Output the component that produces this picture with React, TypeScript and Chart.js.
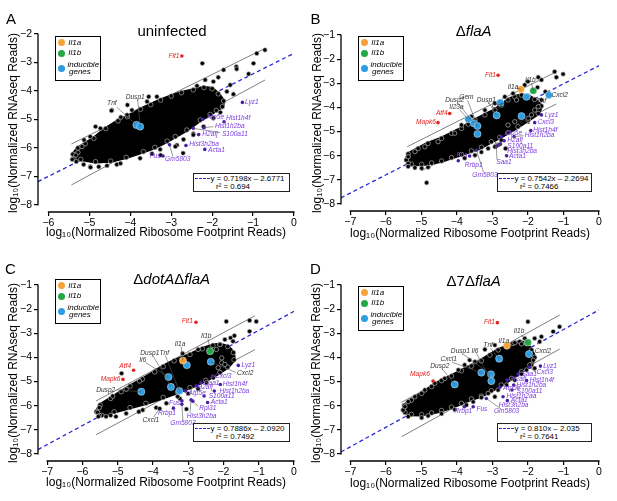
import React, { useEffect, useRef } from "react";
import { Chart, registerables } from "chart.js";

Chart.register(...registerables);

type Pt = [number, number];
type Lbl = { t: string; x: number; y: number; c: "r" | "p" | "g"; a: CanvasTextAlign; from?: Pt; to?: Pt };

const FONT = '"Liberation Sans", Arial, Helvetica, sans-serif';
Chart.defaults.font.family = FONT;

// ---------- tick labels ----------
const xTicksA = [-6, -5, -4, -3, -2, -1, 0];
const yTicksA = [-8, -7, -6, -5, -4, -3, -2];
const xTicksBCD = [-7, -6, -5, -4, -3, -2, -1, 0];
const yTicksBCD = [-8, -7, -6, -5, -4, -3, -2, -1];

const xTitle = "log\u2081\u2080(Normalized Ribosome Footprint Reads)";
const yTitle = "log\u2081\u2080(Normalized RNAseq Reads)";

// ---------- panel A: uninfected ----------
const cloudA: Pt[] = [
  [-5.4, -6.22], [-5.28, -6.0], [-5.1, -5.85], [-4.89, -5.66], [-4.6, -5.32], [-4.3, -5.05],
  [-4.07, -4.9], [-3.75, -4.64], [-3.5, -4.48], [-3.26, -4.32], [-3.0, -4.18], [-2.75, -4.06],
  [-2.46, -3.96], [-2.2, -3.88], [-2.0, -3.92], [-1.85, -4.1], [-1.72, -4.35], [-1.75, -4.55],
  [-1.9, -4.68], [-2.05, -4.82], [-2.29, -5.02], [-2.62, -5.37], [-2.9, -5.6], [-3.1, -5.76],
  [-3.4, -5.98], [-3.68, -6.13], [-4.1, -6.33], [-4.48, -6.46], [-4.85, -6.48], [-5.21, -6.4],
  [-5.38, -6.38],
];
const outliersA: Pt[] = [
  [-0.71, -2.56], [-0.91, -2.68], [-0.99, -3.03], [-1.11, -3.4], [-1.41, -3.15], [-1.4, -3.23],
  [-2.24, -3.03], [-1.72, -3.26], [-1.56, -3.79], [-1.48, -4.11], [-1.85, -3.52], [-1.97, -3.67],
  [-1.64, -4.02], [-2.17, -3.61], [-2.37, -3.82], [-4.45, -4.67], [-4.23, -4.92], [-4.08, -4.84],
  [-3.96, -4.67], [-3.59, -4.37], [-3.35, -4.2], [-4.73, -5.31], [-4.98, -5.6], [-5.18, -5.95],
  [-5.28, -6.16], [-5.42, -6.4], [-5.32, -6.48], [-5.14, -6.58], [-4.98, -6.66], [-4.77, -6.66],
  [-4.57, -6.62], [-4.33, -6.58], [-3.76, -6.36], [-3.47, -6.2], [-3.27, -6.05], [-2.86, -5.9],
  [-2.7, -5.7], [-2.46, -5.5], [-2.21, -5.25], [-1.97, -4.95], [-1.8, -4.75], [-2.71, -6.18],
  [-4.46, -4.69], [-4.07, -4.49], [-3.55, -4.2], [-4.85, -5.25], [-5.13, -5.72], [-5.33, -6.25],
  [-4.97, -6.68], [-4.24, -6.54], [-3.26, -6.25], [-2.9, -5.95], [-2.46, -5.54],
];
const inducibleA: Pt[] = [[-3.85, -5.19], [-3.76, -5.25]];
const il1aA: Pt[] = [];
const il1bA: Pt[] = [];
const redA: Pt[] = [[-2.74, -2.77]];
const purpleA: Pt[] = [
  [-1.26, -4.4], [-2.23, -4.99], [-1.71, -5.08], [-2.2, -5.29], [-2.46, -5.31], [-2.33, -5.53],
  [-2.64, -5.91], [-2.18, -6.05], [-3.2, -6.28], [-3.04, -5.89],
];
const fitA: Pt[] = [[-6.255, -7.179], [0, -2.6771]];
const upperA: Pt[] = [[-5.439, -5.86], [-0.707, -2.502]];
const lowerA: Pt[] = [[-5.439, -7.298], [-0.707, -3.614]];
const eqA = "y = 0.7198x \u2013 2.6771";
const r2A = "r\u00B2 = 0.694";
const labelsA: Lbl[] = [
  { t: "Fit1", x: -2.8, y: -2.77, c: "r", a: "right" },
  { t: "Tnf", x: -4.45, y: -4.43, c: "g", a: "center", from: [-4.33, -4.57], to: [-3.85, -5.19] },
  { t: "Dusp1", x: -3.88, y: -4.2, c: "g", a: "center", from: [-3.82, -4.3], to: [-3.76, -5.25] },
  { t: "Lyz1", x: -1.2, y: -4.4, c: "p", a: "left" },
  { t: "Atp5e", x: -2.13, y: -4.92, c: "p", a: "left" },
  { t: "Hist1h4f", x: -1.66, y: -4.96, c: "p", a: "left" },
  { t: "Hist1h2ba", x: -1.93, y: -5.25, c: "p", a: "left", from: [-1.97, -5.25], to: [-2.2, -5.29] },
  { t: "S100a11", x: -1.76, y: -5.51, c: "p", a: "left", from: [-1.8, -5.46], to: [-2.46, -5.31] },
  { t: "H2afj", x: -2.24, y: -5.53, c: "p", a: "left" },
  { t: "Hist3h2ba", x: -2.56, y: -5.88, c: "p", a: "left" },
  { t: "Acta1", x: -2.1, y: -6.07, c: "p", a: "left" },
  { t: "Fus", x: -3.26, y: -6.27, c: "p", a: "right" },
  { t: "Gm5803", x: -2.84, y: -6.4, c: "p", a: "center", from: [-2.96, -6.3], to: [-3.04, -5.89] },
];

// ---------- panel B: ΔflaA ----------
const cloudB: Pt[] = [
  [-5.42, -6.18], [-5.37, -5.93], [-5.09, -5.7], [-4.81, -5.49], [-4.43, -5.28], [-4.15, -5.07],
  [-3.87, -4.87], [-3.68, -4.69], [-3.49, -4.52], [-3.21, -4.31], [-2.93, -4.11], [-2.75, -3.9],
  [-2.56, -3.69], [-2.37, -3.56], [-2.18, -3.49], [-1.99, -3.53], [-1.81, -3.67], [-1.62, -3.94],
  [-1.71, -4.25], [-1.99, -4.52], [-2.28, -4.8], [-2.56, -5.05], [-2.79, -5.24], [-3.03, -5.42],
  [-3.31, -5.65], [-3.59, -5.8], [-3.87, -5.95], [-4.15, -6.08], [-4.43, -6.22], [-4.71, -6.3],
  [-4.99, -6.36], [-5.28, -6.35],
];
const outliersB: Pt[] = [
  [-1.25, -2.52], [-1.01, -2.62], [-1.2, -2.75], [-1.71, -2.75], [-1.62, -2.86], [-2.0, -2.93],
  [-2.09, -3.07], [-1.73, -3.17], [-1.51, -3.35], [-1.62, -3.69], [-1.71, -3.97], [-1.81, -4.11],
  [-1.9, -4.31], [-1.99, -4.45], [-2.37, -4.59], [-2.56, -4.73], [-2.63, -5.7], [-2.75, -5.35],
  [-2.93, -5.63], [-3.12, -5.7], [-3.31, -5.85], [-3.49, -5.98], [-3.78, -6.1], [-4.85, -7.12],
  [-5.37, -6.32], [-5.37, -6.45], [-5.18, -6.5], [-4.99, -6.52], [-4.81, -6.48], [-5.37, -6.04],
  [-5.18, -5.83], [-4.9, -5.63], [-4.53, -5.42], [-4.06, -5.07], [-3.87, -4.73], [-3.59, -4.38],
  [-3.21, -4.11], [-2.93, -3.83], [-2.65, -3.56], [-2.42, -3.42], [-2.32, -3.69], [-2.18, -3.28],
];
const inducibleB: Pt[] = [
  [-2.78, -3.8], [-2.04, -3.56], [-1.41, -3.49], [-2.88, -4.33], [-2.18, -4.36], [-3.68, -4.49],
  [-3.52, -4.66], [-3.42, -4.77], [-3.42, -5.1],
];
const il1aB: Pt[] = [[-2.2, -3.25]];
const il1bB: Pt[] = [[-1.85, -3.31]];
const redB: Pt[] = [[-2.84, -2.67], [-4.2, -4.25], [-4.53, -4.63]];
const purpleB: Pt[] = [
  [-1.62, -4.31], [-1.81, -4.63], [-1.92, -4.96], [-2.39, -5.21], [-2.75, -5.21], [-2.67, -5.38],
  [-2.77, -5.52], [-2.84, -5.56], [-2.6, -6.0], [-3.64, -6.01], [-3.96, -6.21], [-3.45, -5.77],
  [-2.89, -5.63],
];
const fitB: Pt[] = [[-7.26, -7.745], [0, -2.2694]];
const upperB: Pt[] = [[-5.397, -5.627], [-1.2, -2.52]];
const lowerB: Pt[] = [[-4.995, -6.621], [-1.2, -3.858]];
const eqB = "y = 0.7542x \u2013 2.2694";
const r2B = "r\u00B2 = 0.7466";
const labelsB: Lbl[] = [
  { t: "Fit1", x: -2.9, y: -2.67, c: "r", a: "right" },
  { t: "Atf4", x: -4.26, y: -4.25, c: "r", a: "right" },
  { t: "Mapk6", x: -4.59, y: -4.63, c: "r", a: "right" },
  { t: "Il1b", x: -1.93, y: -2.86, c: "g", a: "center", from: [-1.9, -2.98], to: [-1.85, -3.31] },
  { t: "Il1a", x: -2.42, y: -3.17, c: "g", a: "center", from: [-2.32, -3.2], to: [-2.2, -3.25] },
  { t: "Dusp1", x: -3.17, y: -3.69, c: "g", a: "center", from: [-3.1, -3.8], to: [-2.88, -4.33] },
  { t: "Csf2", x: -2.82, y: -3.94, c: "g", a: "center" },
  { t: "Gem", x: -3.73, y: -3.58, c: "g", a: "center", from: [-3.7, -3.7], to: [-3.42, -4.77] },
  { t: "Dusp2", x: -4.06, y: -3.69, c: "g", a: "center", from: [-3.98, -3.8], to: [-3.52, -4.66] },
  { t: "Il23a", x: -4.01, y: -4.0, c: "g", a: "center", from: [-3.92, -4.1], to: [-3.68, -4.49] },
  { t: "Tnf", x: -1.76, y: -3.72, c: "g", a: "left" },
  { t: "Cxcl2", x: -1.34, y: -3.51, c: "g", a: "left" },
  { t: "Cxcl1", x: -2.39, y: -4.62, c: "g", a: "left" },
  { t: "Il6", x: -2.86, y: -5.56, c: "g", a: "center" },
  { t: "Lyz1", x: -1.53, y: -4.31, c: "p", a: "left" },
  { t: "Cxcl3", x: -1.73, y: -4.63, c: "p", a: "left" },
  { t: "Hist1h4f", x: -1.85, y: -4.94, c: "p", a: "left" },
  { t: "Hist1h2ba", x: -2.09, y: -5.16, c: "p", a: "left", from: [-2.12, -5.17], to: [-2.39, -5.21] },
  { t: "Atp5e", x: -2.65, y: -5.07, c: "p", a: "left" },
  { t: "H2afj", x: -2.58, y: -5.35, c: "p", a: "left" },
  { t: "S100a11", x: -2.58, y: -5.59, c: "p", a: "left" },
  { t: "Hist3h2ba", x: -2.58, y: -5.81, c: "p", a: "left" },
  { t: "Acta1", x: -2.53, y: -6.0, c: "p", a: "left" },
  { t: "Saa1", x: -2.89, y: -6.25, c: "p", a: "left", from: [-2.87, -6.17], to: [-2.89, -5.63] },
  { t: "Fus", x: -3.7, y: -5.97, c: "p", a: "right" },
  { t: "Rrbp1", x: -3.78, y: -6.41, c: "p", a: "left" },
  { t: "Gm5803", x: -3.21, y: -6.8, c: "p", a: "center", from: [-3.25, -6.68], to: [-3.45, -5.77] },
];

// ---------- panel C: ΔdotAΔflaA ----------
const cloudC: Pt[] = [
  [-5.6, -6.25], [-5.5, -5.97], [-5.2, -5.7], [-4.9, -5.42], [-4.65, -5.19], [-4.3, -4.9],
  [-3.95, -4.6], [-3.71, -4.38], [-3.4, -4.14], [-2.95, -3.88], [-2.6, -3.64], [-2.3, -3.5],
  [-2.1, -3.46], [-1.88, -3.55], [-1.72, -3.8], [-1.7, -4.1], [-1.88, -4.4], [-2.1, -4.62],
  [-2.5, -4.95], [-2.95, -5.25], [-3.3, -5.45], [-3.71, -5.66], [-4.2, -5.9], [-4.65, -6.08],
  [-5.1, -6.25], [-5.45, -6.4],
];
const outliersC: Pt[] = [
  [-1.92, -2.51], [-1.26, -2.47], [-1.07, -2.51], [-1.26, -2.92], [-1.69, -3.1], [-1.8, -3.19],
  [-1.73, -3.33], [-1.96, -3.26], [-2.1, -3.47], [-2.2, -3.67], [-2.05, -4.02], [-2.05, -4.22],
  [-2.15, -4.43], [-1.96, -4.29], [-2.72, -3.67], [-3.16, -3.84], [-4.38, -4.98], [-4.76, -5.32],
  [-5.14, -5.6], [-5.52, -6.08], [-5.57, -6.28], [-5.52, -6.4], [-5.33, -6.45], [-5.05, -6.45],
  [-4.76, -6.32], [-4.29, -6.18], [-3.91, -6.08], [-3.62, -5.9], [-3.24, -5.7], [-3.0, -5.5],
  [-2.72, -5.3], [-2.48, -5.05], [-2.29, -4.84], [-3.05, -6.14], [-3.81, -6.12], [-4.89, -4.66],
  [-5.55, -6.45], [-5.2, -6.4], [-4.4, -6.25], [-3.3, -5.62],
];
const inducibleC: Pt[] = [
  [-3.04, -4.32], [-2.36, -4.18], [-3.56, -4.81], [-3.49, -5.22], [-3.25, -5.39], [-4.33, -5.42],
];
const il1aC: Pt[] = [[-3.15, -4.13]];
const il1bC: Pt[] = [[-2.38, -3.74]];
const redC: Pt[] = [[-2.78, -2.54], [-4.55, -4.53], [-4.85, -4.91]];
const purpleC: Pt[] = [
  [-1.58, -4.33], [-2.31, -4.77], [-2.64, -5.05], [-2.09, -5.12], [-2.77, -5.18], [-2.26, -5.39],
  [-3.08, -5.39], [-2.55, -5.6], [-2.45, -5.87], [-2.87, -5.81], [-2.92, -5.76], [-3.18, -5.8],
  [-3.42, -6.1], [-3.18, -5.94],
];
const fitC: Pt[] = [[-7.26, -7.817], [0, -2.092]];
const upperC: Pt[] = [[-5.614, -5.804], [-1.109, -2.276]];
const lowerC: Pt[] = [[-5.614, -7.204], [-1.109, -3.676]];
const eqC = "y = 0.7886x \u2013 2.0920";
const r2C = "r\u00B2 = 0.7492";
const labelsC: Lbl[] = [
  { t: "Fit1", x: -2.87, y: -2.51, c: "r", a: "right" },
  { t: "Atf4", x: -4.62, y: -4.36, c: "r", a: "right" },
  { t: "Mapk6", x: -4.92, y: -4.91, c: "r", a: "right" },
  { t: "Il1b", x: -2.49, y: -3.1, c: "g", a: "center", from: [-2.44, -3.22], to: [-2.38, -3.74] },
  { t: "Il1a", x: -3.23, y: -3.43, c: "g", a: "center", from: [-3.2, -3.55], to: [-3.15, -4.13] },
  { t: "Dusp1", x: -4.09, y: -3.81, c: "g", a: "center", from: [-4.0, -3.92], to: [-3.49, -5.22] },
  { t: "Tnf", x: -3.68, y: -3.81, c: "g", a: "center", from: [-3.65, -3.92], to: [-3.25, -5.39] },
  { t: "Il6", x: -4.29, y: -4.11, c: "g", a: "center", from: [-4.2, -4.22], to: [-3.56, -4.81] },
  { t: "Dusp2", x: -5.07, y: -5.35, c: "g", a: "right", from: [-5.02, -5.35], to: [-4.33, -5.42] },
  { t: "Cxcl1", x: -4.06, y: -6.58, c: "g", a: "center", from: [-3.98, -6.47], to: [-3.81, -6.12] },
  { t: "Cxcl2", x: -1.62, y: -4.66, c: "g", a: "left", from: [-1.65, -4.62], to: [-2.36, -4.18] },
  { t: "Lyz1", x: -1.49, y: -4.33, c: "p", a: "left" },
  { t: "Cxcl3", x: -2.24, y: -4.77, c: "p", a: "left" },
  { t: "Saa1", x: -2.55, y: -5.05, c: "p", a: "left" },
  { t: "Hist1h4f", x: -2.02, y: -5.12, c: "p", a: "left" },
  { t: "H2afj", x: -2.74, y: -5.22, c: "p", a: "left" },
  { t: "Hist1h2ba", x: -2.11, y: -5.39, c: "p", a: "left" },
  { t: "Atp5e", x: -2.99, y: -5.49, c: "p", a: "left" },
  { t: "S100a11", x: -2.42, y: -5.6, c: "p", a: "left" },
  { t: "Acta1", x: -2.36, y: -5.87, c: "p", a: "left" },
  { t: "Rpl31", x: -2.69, y: -6.09, c: "p", a: "left", from: [-2.72, -6.02], to: [-2.87, -5.81] },
  { t: "Hist3h2ba", x: -3.04, y: -6.42, c: "p", a: "left", from: [-2.95, -6.3], to: [-2.92, -5.76] },
  { t: "Fus", x: -3.23, y: -5.9, c: "p", a: "right" },
  { t: "Rrbp1", x: -3.6, y: -6.32, c: "p", a: "center" },
  { t: "Gm5803", x: -3.15, y: -6.72, c: "p", a: "center", from: [-3.15, -6.6], to: [-3.18, -5.94] },
];

// ---------- panel D: Δ7ΔflaA ----------
const cloudD: Pt[] = [
  [-5.51, -6.18], [-5.48, -5.99], [-5.28, -5.77], [-4.99, -5.49], [-4.71, -5.21], [-4.43, -4.96],
  [-4.15, -4.77], [-3.87, -4.55], [-3.59, -4.36], [-3.31, -4.14], [-3.07, -3.9], [-2.84, -3.69],
  [-2.6, -3.56], [-2.42, -3.42], [-2.23, -3.35], [-2.04, -3.42], [-1.9, -3.69], [-1.81, -4.0],
  [-1.9, -4.31], [-2.18, -4.59], [-2.46, -4.87], [-2.75, -5.14], [-3.03, -5.38], [-3.31, -5.6],
  [-3.59, -5.72], [-3.87, -5.9], [-4.15, -6.06], [-4.43, -6.2], [-4.71, -6.3], [-4.99, -6.37],
  [-5.28, -6.36], [-5.46, -6.28],
];
const outliersD: Pt[] = [
  [-2.0, -2.52], [-1.11, -2.73], [-1.29, -2.93], [-1.62, -3.14], [-1.81, -3.21], [-1.67, -3.35],
  [-2.09, -3.21], [-2.18, -3.44], [-2.37, -3.39], [-2.93, -3.49], [-3.21, -3.67], [-1.85, -4.11],
  [-1.95, -4.31], [-1.81, -4.45], [-2.04, -4.52], [-2.18, -4.69], [-2.37, -4.94], [-2.6, -5.14],
  [-2.84, -5.35], [-2.93, -5.63], [-3.12, -5.49], [-3.31, -5.66], [-3.54, -5.84], [-3.73, -5.97],
  [-4.06, -6.16], [-4.43, -6.33], [-4.81, -6.42], [-4.99, -6.5], [-5.37, -6.45], [-5.46, -6.04],
  [-5.37, -5.83], [-5.18, -5.63], [-4.9, -5.35], [-4.62, -5.07], [-4.34, -4.87], [-3.96, -4.52],
  [-3.78, -4.31], [-3.49, -4.18], [-3.64, -4.11],
];
const inducibleD: Pt[] = [
  [-1.97, -3.86], [-2.81, -4.05], [-3.31, -4.63], [-3.04, -4.7], [-3.03, -4.98], [-4.06, -5.12],
];
const il1aD: Pt[] = [[-2.59, -3.51]];
const il1bD: Pt[] = [[-2.0, -3.38]];
const redD: Pt[] = [[-2.86, -2.56], [-4.67, -4.98]];
const purpleD: Pt[] = [
  [-1.65, -4.36], [-1.95, -4.41], [-2.28, -4.69], [-2.58, -4.94], [-2.04, -4.96], [-2.4, -5.14],
  [-2.79, -5.24], [-2.45, -5.35], [-2.7, -5.63], [-2.58, -5.79], [-3.17, -5.7], [-3.54, -6.04],
  [-3.79, -6.04],
];
const fitD: Pt[] = [[-7.26, -7.916], [0, -2.035]];
const upperD: Pt[] = [[-5.557, -5.86], [-1.105, -2.243]];
const lowerD: Pt[] = [[-5.557, -7.284], [-1.105, -3.651]];
const eqD = "y = 0.810x \u2013 2.035";
const r2D = "r\u00B2 = 0.7641";
const labelsD: Lbl[] = [
  { t: "Fit1", x: -2.93, y: -2.52, c: "r", a: "right" },
  { t: "Mapk6", x: -4.76, y: -4.69, c: "r", a: "right" },
  { t: "Il1b", x: -2.25, y: -2.93, c: "g", a: "center", from: [-2.2, -3.05], to: [-2.0, -3.38] },
  { t: "Il1a", x: -2.68, y: -3.31, c: "g", a: "center" },
  { t: "Tnf", x: -3.12, y: -3.51, c: "g", a: "center", from: [-3.05, -3.62], to: [-2.81, -4.05] },
  { t: "Dusp1", x: -3.9, y: -3.76, c: "g", a: "center", from: [-3.82, -3.87], to: [-3.04, -4.7] },
  { t: "Il6", x: -3.49, y: -3.72, c: "g", a: "center", from: [-3.45, -3.83], to: [-3.03, -4.98] },
  { t: "Cxcl1", x: -4.23, y: -4.08, c: "g", a: "center", from: [-4.15, -4.19], to: [-3.31, -4.63] },
  { t: "Dusp2", x: -4.48, y: -4.38, c: "g", a: "center", from: [-4.4, -4.49], to: [-4.06, -5.12] },
  { t: "Cxcl2", x: -1.81, y: -3.72, c: "g", a: "left" },
  { t: "Lyz1", x: -1.57, y: -4.36, c: "p", a: "left" },
  { t: "Cxcl3", x: -1.76, y: -4.62, c: "p", a: "left", from: [-1.8, -4.58], to: [-1.95, -4.41] },
  { t: "Saa1", x: -2.18, y: -4.69, c: "p", a: "left" },
  { t: "H2afj", x: -2.48, y: -4.91, c: "p", a: "left" },
  { t: "Hist1h4f", x: -1.95, y: -4.96, c: "p", a: "left" },
  { t: "Hist1h2ba", x: -2.32, y: -5.14, c: "p", a: "left" },
  { t: "Atp5e", x: -2.7, y: -5.28, c: "p", a: "left" },
  { t: "S100a11", x: -2.32, y: -5.38, c: "p", a: "left" },
  { t: "Hist1h2aa", x: -2.6, y: -5.59, c: "p", a: "left" },
  { t: "Acta1", x: -2.48, y: -5.79, c: "p", a: "left" },
  { t: "Hist3h2ba", x: -2.82, y: -5.99, c: "p", a: "left" },
  { t: "Gm5803", x: -2.6, y: -6.22, c: "p", a: "center", from: [-2.75, -6.14], to: [-3.17, -5.7] },
  { t: "Fus", x: -3.45, y: -6.14, c: "p", a: "left" },
  { t: "Rrbp1", x: -3.82, y: -6.23, c: "p", a: "center" },
];

// ---------- styling ----------
const C = {
  red: "#e3231f",
  purpleDot: "#4a1fa6",
  purpleText: "#7a3ce0",
  blue: "#2d9ce0",
  orange: "#f6a23a",
  green: "#23a846",
  fit: "#2a2ad2",
  bound: "#7f7f7f",
  grayText: "#333333",
};

interface PanelSpec {
  letter: string;
  title: React.ReactNode;
  cell: { left: number; top: number; w: number; h: number };
  area: { l: number; r: number; t: number; b: number };
  xr: [number, number];
  yr: [number, number];
  xt: number[];
  yt: number[];
  yTitlePad: number;
  xTitlePad: number;
  cloud: Pt[];
  outliers: Pt[];
  inducible: Pt[];
  il1a: Pt[];
  il1b: Pt[];
  red: Pt[];
  purple: Pt[];
  fit: Pt[];
  upper: Pt[];
  lower: Pt[];
  eq: string;
  r2: string;
  labels: Lbl[];
  letterPos: [number, number];
  titlePos: [number, number];
  legendPos: [number, number];
  eqPos: [number, number];
  eqW: number;
}

const panels: PanelSpec[] = [
  {
    letter: "A", title: <span>uninfected</span>,
    cell: { left: 0, top: 0, w: 308, h: 250 }, area: { l: 38, r: 294, t: 34, b: 212 },
    xr: [-6.255, 0], yr: [-8.246, -2], xt: xTicksA, yt: yTicksA, yTitlePad: 6, xTitlePad: 10,
    cloud: cloudA, outliers: outliersA, inducible: inducibleA, il1a: il1aA, il1b: il1bA, red: redA, purple: purpleA,
    fit: fitA, upper: upperA, lower: lowerA, eq: eqA, r2: r2A, labels: labelsA,
    letterPos: [6, 11], titlePos: [172, 29.5], legendPos: [55, 36], eqPos: [193, 173], eqW: 97,
  },
  {
    letter: "B", title: <span>{"\u0394"}<i>flaA</i></span>,
    cell: { left: 308, top: 0, w: 309, h: 250 }, area: { l: 33, r: 291, t: 35, b: 211 },
    xr: [-7.26, 0], yr: [-8.29, -1], xt: xTicksBCD, yt: yTicksBCD, yTitlePad: 2, xTitlePad: 9.5,
    cloud: cloudB, outliers: outliersB, inducible: inducibleB, il1a: il1aB, il1b: il1bB, red: redB, purple: purpleB,
    fit: fitB, upper: upperB, lower: lowerB, eq: eqB, r2: r2B, labels: labelsB,
    letterPos: [2.5, 11], titlePos: [165.7, 29.5], legendPos: [50, 36], eqPos: [189, 173], eqW: 95,
  },
  {
    letter: "C", title: <span>{"\u0394"}<i>dotA</i>{"\u0394"}<i>flaA</i></span>,
    cell: { left: 0, top: 250, w: 308, h: 251 }, area: { l: 38, r: 294, t: 35, b: 211 },
    xr: [-7.26, 0], yr: [-8.29, -1], xt: xTicksBCD, yt: yTicksBCD, yTitlePad: 6, xTitlePad: 11,
    cloud: cloudC, outliers: outliersC, inducible: inducibleC, il1a: il1aC, il1b: il1bC, red: redC, purple: purpleC,
    fit: fitC, upper: upperC, lower: lowerC, eq: eqC, r2: r2C, labels: labelsC,
    letterPos: [5, 11], titlePos: [171.7, 27.5], legendPos: [55, 29], eqPos: [193, 173], eqW: 97,
  },
  {
    letter: "D", title: <span>{"\u0394"}7{"\u0394"}<i>flaA</i></span>,
    cell: { left: 308, top: 250, w: 309, h: 251 }, area: { l: 33, r: 291, t: 35, b: 211 },
    xr: [-7.26, 0], yr: [-8.29, -1], xt: xTicksBCD, yt: yTicksBCD, yTitlePad: 1, xTitlePad: 10.5,
    cloud: cloudD, outliers: outliersD, inducible: inducibleD, il1a: il1aD, il1b: il1bD, red: redD, purple: purpleD,
    fit: fitD, upper: upperD, lower: lowerD, eq: eqD, r2: r2D, labels: labelsD,
    letterPos: [2, 11], titlePos: [165.7, 29.5], legendPos: [50, 36], eqPos: [189, 173], eqW: 95,
  },
];

const toXY = (a: Pt[]) => a.map(([x, y]) => ({ x, y }));
const fmtTick = (v: number | string) => {
  const n = Number(v);
  return n < 0 ? "\u2212" + Math.abs(n) : String(n);
};

function overlayPlugin(p: PanelSpec) {
  return {
    id: "overlay" + p.letter,
    afterDatasetsDraw(chart: any) {
      const ctx: CanvasRenderingContext2D = chart.ctx;
      const xs = chart.scales.x;
      const ys = chart.scales.y;
      ctx.save();
      ctx.lineWidth = 0.6;
      ctx.strokeStyle = "#555";
      for (const l of p.labels) {
        if (l.from && l.to) {
          ctx.beginPath();
          ctx.moveTo(xs.getPixelForValue(l.from[0]), ys.getPixelForValue(l.from[1]));
          ctx.lineTo(xs.getPixelForValue(l.to[0]), ys.getPixelForValue(l.to[1]));
          ctx.stroke();
        }
      }
      ctx.font = `italic 6.6px ${FONT}`;
      ctx.textBaseline = "middle";
      for (const l of p.labels) {
        ctx.fillStyle = l.c === "r" ? C.red : l.c === "p" ? C.purpleText : C.grayText;
        ctx.textAlign = l.a;
        ctx.fillText(l.t, xs.getPixelForValue(l.x), ys.getPixelForValue(l.y));
      }
      ctx.restore();
    },
    afterDraw(chart: any) {
      const ctx: CanvasRenderingContext2D = chart.ctx;
      const xs = chart.scales.x;
      const ys = chart.scales.y;
      const a = chart.chartArea;
      ctx.save();
      ctx.strokeStyle = "#000";
      ctx.lineWidth = 1.3;
      ctx.beginPath();
      ctx.moveTo(xs.getPixelForValue(p.xt[0]) - 0.6, a.bottom);
      ctx.lineTo(xs.getPixelForValue(p.xt[p.xt.length - 1]) + 0.6, a.bottom);
      ctx.moveTo(a.left, ys.getPixelForValue(p.yt[0]) + 0.6);
      ctx.lineTo(a.left, ys.getPixelForValue(p.yt[p.yt.length - 1]) - 0.6);
      ctx.stroke();
      ctx.restore();
    },
  };
}

function buildConfig(p: PanelSpec): any {
  const pt = (data: Pt[], r: number, color: string, border: string, bw: number, label: string) => ({
    type: "scatter",
    label,
    data: toXY(data),
    pointRadius: r,
    pointBackgroundColor: color,
    pointBorderColor: border,
    pointBorderWidth: bw,
    showLine: false,
  });
  const line = (data: Pt[], color: string, width: number, dash: number[], label: string) => ({
    type: "line",
    label,
    data: toXY(data),
    borderColor: color,
    borderWidth: width,
    borderDash: dash,
    pointRadius: 0,
    fill: false,
    tension: 0,
  });
  return {
    type: "scatter",
    data: {
      datasets: [
        pt(p.il1a, 3.6, C.orange, "#ffffff", 0.4, "Il1a"),
        pt(p.il1b, 3.6, C.green, "#ffffff", 0.4, "Il1b"),
        pt(p.inducible, 3.6, C.blue, "#ffffff", 0.4, "inducible genes"),
        pt(p.red, 1.8, C.red, C.red, 0, "highlighted (red)"),
        pt(p.purple, 1.8, C.purpleDot, C.purpleDot, 0, "highlighted (purple)"),
        pt(p.outliers, 2.2, "#000000", "#b4b4b4", 0.7, "genes"),
        {
          type: "line",
          label: "genes (dense)",
          data: toXY([...p.cloud, p.cloud[0]]),
          borderColor: "#000000",
          backgroundColor: "#000000",
          borderWidth: 3.5,
          borderJoinStyle: "round",
          fill: "shape",
          tension: 0,
          pointRadius: 2.3,
          pointBackgroundColor: "#000000",
          pointBorderColor: "#a8a8a8",
          pointBorderWidth: 0.7,
        },
        line(p.fit, C.fit, 1.3, [4, 3], "fit"),
        line(p.upper, C.bound, 1, [], "upper bound"),
        line(p.lower, C.bound, 1, [], "lower bound"),
      ],
    },
    options: {
      animation: false,
      responsive: false,
      maintainAspectRatio: false,
      events: [],
      layout: { padding: { left: 0, top: p.area.t, right: p.cell.w - p.area.r, bottom: 0 } },
      plugins: { legend: { display: false }, tooltip: { enabled: false }, title: { display: false } },
      scales: {
        x: {
          type: "linear",
          min: p.xr[0],
          max: p.xr[1],
          afterFit: (s: any) => { s.height = p.cell.h - p.area.b; },
          afterBuildTicks: (s: any) => { s.ticks = p.xt.map((v) => ({ value: v })); },
          ticks: { callback: fmtTick, color: "#000", font: { size: 10.5 }, padding: 1, autoSkip: false, maxRotation: 0, includeBounds: false },
          grid: { display: true, drawOnChartArea: false, drawTicks: true, tickLength: 4, color: "#000", lineWidth: 1.2 },
          border: { display: false },
          title: { display: true, text: xTitle, color: "#000", font: { size: 12 }, padding: { top: 0, bottom: p.xTitlePad } },
        },
        y: {
          type: "linear",
          min: p.yr[0],
          max: p.yr[1],
          afterFit: (s: any) => { s.width = p.area.l; },
          afterBuildTicks: (s: any) => { s.ticks = p.yt.map((v) => ({ value: v })); },
          ticks: { callback: fmtTick, color: "#000", font: { size: 10.5 }, padding: 2, autoSkip: false, includeBounds: false },
          grid: { display: true, drawOnChartArea: false, drawTicks: true, tickLength: 4, color: "#000", lineWidth: 1.2 },
          border: { display: false },
          title: { display: true, text: yTitle, color: "#000", font: { size: 12 }, padding: { top: p.yTitlePad, bottom: 0 } },
        },
      },
    },
    plugins: [overlayPlugin(p)],
  };
}

function Legend({ p }: { p: PanelSpec }) {
  const circle = (cy: number, color: string) => (
    <div style={{ position: "absolute", left: 2.3, top: cy - 3.6, width: 7.2, height: 7.2, borderRadius: "50%", background: color }} />
  );
  const text = (cy: number, t: string, left = 12.3) => (
    <div style={{ position: "absolute", left, top: cy - 5, height: 10, lineHeight: "10px", font: `italic 8px ${FONT}`, whiteSpace: "nowrap", color: "#000" }}>{t}</div>
  );
  return (
    <div style={{ position: "absolute", left: p.legendPos[0], top: p.legendPos[1], width: 46, height: 45, border: "1.2px solid #000", boxSizing: "border-box", background: "#fff" }}>
      {circle(5.7, C.orange)}
      {text(5.7, "Il1a")}
      {circle(16.3, C.green)}
      {text(16.3, "Il1b")}
      {circle(31.3, C.blue)}
      {text(28, "inducible", 11.5)}
      {text(34.7, "genes", 13)}
    </div>
  );
}

function EqBox({ p }: { p: PanelSpec }) {
  return (
    <div style={{ position: "absolute", left: p.eqPos[0], top: p.eqPos[1], width: p.eqW, height: 19, border: "1px solid #222", boxSizing: "border-box", background: "#fff" }}>
      <div style={{ position: "absolute", left: 1, top: 3.6, width: 15, height: 0, borderTop: `1.3px dashed ${C.fit}` }} />
      <div style={{ position: "absolute", left: 16.5, top: -0.5, lineHeight: "9px", font: `7.9px ${FONT}`, whiteSpace: "nowrap", color: "#000" }}>{p.eq}</div>
      <div style={{ position: "absolute", left: 22, top: 7.5, lineHeight: "9px", font: `7.9px ${FONT}`, whiteSpace: "nowrap", color: "#000" }}>{p.r2}</div>
    </div>
  );
}

function Panel({ p }: { p: PanelSpec }) {
  const ref = useRef<HTMLCanvasElement>(null);
  useEffect(() => {
    if (!ref.current) return;
    const chart = new Chart(ref.current, buildConfig(p));
    return () => chart.destroy();
  }, [p]);
  return (
    <div style={{ position: "absolute", left: p.cell.left, top: p.cell.top, width: p.cell.w, height: p.cell.h, overflow: "hidden" }}>
      <canvas ref={ref} width={p.cell.w} height={p.cell.h} style={{ position: "absolute", left: 0, top: 0, width: p.cell.w, height: p.cell.h }} />
      <div style={{ position: "absolute", left: p.letterPos[0], top: p.letterPos[1], font: `15px ${FONT}`, lineHeight: 1, color: "#000" }}>{p.letter}</div>
      <div style={{ position: "absolute", left: p.titlePos[0], top: p.titlePos[1], transform: "translate(-50%, -50%)", font: `15px ${FONT}`, lineHeight: 1, whiteSpace: "nowrap", color: "#000" }}>{p.title}</div>
      <Legend p={p} />
      <EqBox p={p} />
    </div>
  );
}

export default function App() {
  return (
    <div style={{ position: "absolute", left: 0, top: 0, width: 617, height: 501, background: "#fff", fontFamily: FONT }}>
      {panels.map((p) => (
        <Panel key={p.letter} p={p} />
      ))}
    </div>
  );
}
